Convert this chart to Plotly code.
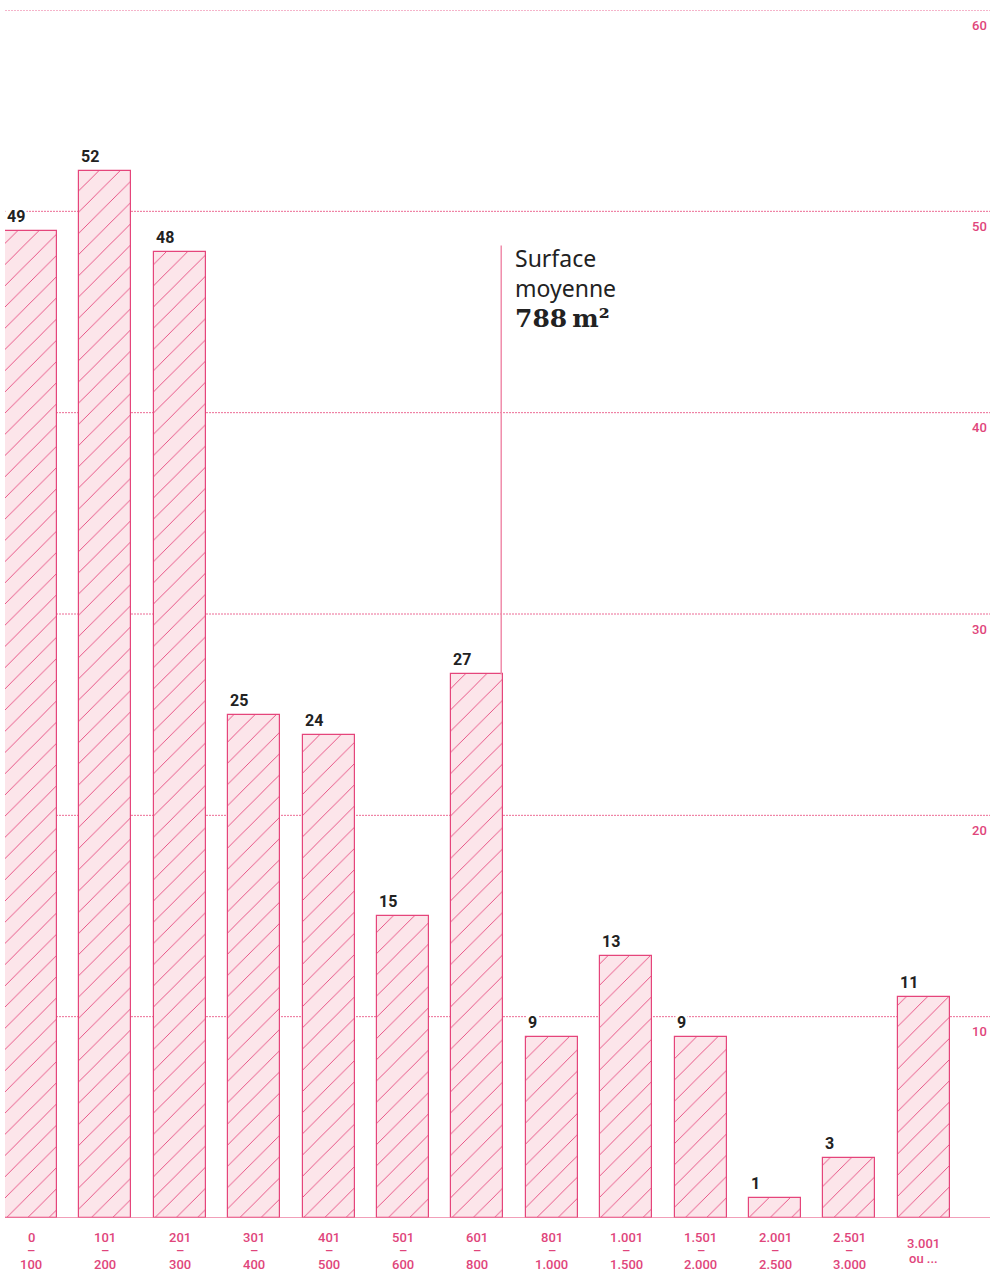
import plotly.graph_objects as go

categories_top = ["0", "101", "201", "301", "401", "501", "601", "801", "1.001", "1.501", "2.001", "2.501", "3.001"]
categories_bottom = ["100", "200", "300", "400", "500", "600", "800", "1.000", "1.500", "2.000", "2.500", "3.000", "ou ..."]
values = [49, 52, 48, 25, 24, 15, 27, 9, 13, 9, 1, 3, 11]
y_ticks = [10, 20, 30, 40, 50, 60]
mean_value_pos = 6.32  # position of 788 m² on the category scale
mean_text = ("Surface<br>moyenne<br>"
             "<span style='font-family:DejaVu Serif;font-size:25px'><b>788\u2009m²</b></span>")

PINK = "#e5457b"
PINK_TEXT = "#e0457b"
LIGHT = "#fce5ea"
DARK = "#222222"

W, H = 994, 1272
x_range = [-0.35, 12.89]
y_range = [0, 60]

xs = list(range(len(values)))

fig = go.Figure()
fig.add_trace(go.Bar(
    x=xs, y=values, width=0.7,
    marker=dict(
        color=LIGHT,
        line=dict(color=PINK, width=1.2),
        pattern=dict(shape="/", size=15, solidity=0.06, fgcolor=PINK, bgcolor=LIGHT, fillmode="replace"),
    ),
    hoverinfo="skip",
))

shapes = []
for t in y_ticks:
    shapes.append(dict(type="line", xref="x", yref="y", x0=x_range[0], x1=x_range[1], y0=t, y1=t,
                       line=dict(color="#ec6b95", width=1, dash="2px,1px"), layer="below"))
shapes.append(dict(type="line", xref="x", yref="y", x0=x_range[0], x1=x_range[1], y0=0, y1=0,
                   line=dict(color="#ee7fa2", width=1.5), layer="above"))
shapes.append(dict(type="line", xref="x", yref="y", x0=mean_value_pos, x1=mean_value_pos, y0=values[6], y1=48.3,
                   line=dict(color="#f08cab", width=1.5), layer="above"))

annotations = []
for i, v in enumerate(values):
    annotations.append(dict(x=i - 0.35, y=v, xref="x", yref="y", text=f"<b>{v}</b>", showarrow=False,
                            xanchor="left", yanchor="bottom", yshift=3, bgcolor="white", borderpad=1,
                            font=dict(family="Roboto", size=16, color=DARK)))
    if categories_bottom[i] == "ou ...":
        lines = [(categories_top[i], -25), (categories_bottom[i], -40)]
    else:
        lines = [(categories_top[i], -19), ("–", -32), (categories_bottom[i], -46)]
    for txt, sh in lines:
        annotations.append(dict(x=i, y=0, xref="x", yref="y", text=txt, showarrow=False,
                                xanchor="center", yanchor="middle", yshift=sh,
                                font=dict(family="Roboto", size=13, color=PINK_TEXT, weight=500)))

for t in y_ticks:
    annotations.append(dict(x=12.755, y=t, xref="x", yref="y", text=str(t), showarrow=False,
                            xanchor="center", yanchor="middle", yshift=-15,
                            font=dict(family="Roboto", size=13, color=PINK_TEXT, weight=500)))

annotations.append(dict(x=6.495, y=48.55, xref="x", yref="y", text=mean_text, showarrow=False,
                        xanchor="left", yanchor="top", align="left", borderpad=0,
                        font=dict(family="Noto Sans", size=23, color=DARK)))

fig.update_layout(
    width=W, height=H,
    margin=dict(l=5, r=4, t=10, b=54),
    paper_bgcolor="white", plot_bgcolor="white",
    showlegend=False,
    bargap=0,
    xaxis=dict(range=x_range, showgrid=False, zeroline=False, showticklabels=False, ticks="", fixedrange=True),
    yaxis=dict(range=y_range, showgrid=False, zeroline=False, showticklabels=False, ticks="", fixedrange=True),
    shapes=shapes, annotations=annotations,
)

fig.write_html("out.html")
